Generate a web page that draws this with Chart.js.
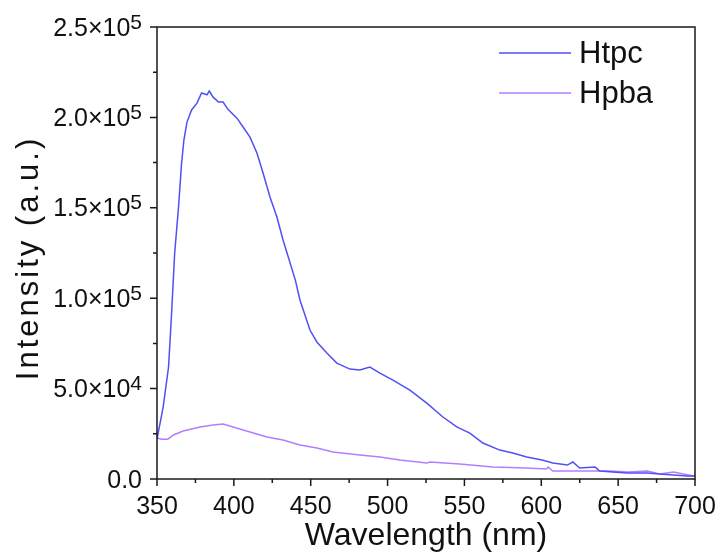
<!DOCTYPE html>
<html>
<head>
<meta charset="utf-8">
<script src="https://cdn.jsdelivr.net/npm/chart.js@4/dist/chart.umd.min.js"></script>
<style>
  html, body { margin: 0; padding: 0; background: #fff; }
  #wrap { width: 723px; height: 556px; }
</style>
</head>
<body>
<div id="wrap"><canvas id="myChart"></canvas></div>
<script>
const seriesNames = ["Htpc", "Hpba"];

const htpcWavelength = [350, 354, 357.5, 359.5, 361.5, 364, 366, 367.5, 369.5, 372.5, 376, 379, 382.5, 384, 386.5, 390, 393, 396, 402, 406, 410.5,
  415, 419, 423.5, 428, 432, 436, 440, 443, 449.5, 454, 460.5, 467, 475.5, 482, 488.5, 495, 503.5, 514.5, 525.5, 536,
  545, 553.5, 562, 573, 581.5, 590.5, 600.5, 607.5, 617, 620.5, 625, 635, 638, 646.5, 656, 669, 677, 686, 695, 700];
const htpcIntensity = [22000, 39800, 61900, 91800, 125000, 150400, 174700, 187500, 197400, 204100, 207900, 213500, 212500, 214600, 211200, 208500, 208500, 204600, 199600, 194700, 189100,
  180300, 169200, 156000, 144900, 132200, 121100, 110000, 99000, 82400, 75800, 69700, 64100, 60800, 60300, 61900, 58600, 54700, 49200, 42000, 34300,
  28800, 25400, 19900, 16000, 14400, 12200, 10500, 8800, 7700, 9400, 6100, 6600, 4400, 3900, 3300, 3300, 2800, 2200, 1700, 1700];

const hpbaWavelength = [350, 353, 357, 361, 367, 378, 386.5, 393, 399.5, 410.5, 421.5, 432, 443, 454, 464.5, 482, 495, 508, 525.5, 527.5, 547, 568.5,
  590.5, 603.5, 604.5, 607.5, 623, 645, 656, 669, 677, 686, 699];
const hpbaIntensity = [22700, 22000, 22000, 24500, 26500, 28800, 29900, 30400, 28800, 26000, 23200, 21600, 18800, 17100, 14900, 13300, 12200, 10500, 8800, 9400, 8300, 6600,
  6100, 5500, 6600, 4400, 4400, 4400, 3900, 4400, 2800, 3900, 1700];

const yTickValues = [0, 50000, 100000, 150000, 200000, 250000];
const yTickMantissa = ["0.0", "5.0\u00d710", "1.0\u00d710", "1.5\u00d710", "2.0\u00d710", "2.5\u00d710"];
const yTickExponent = ["", "4", "5", "5", "5", "5"];

const seriesColors = ["rgb(80, 80, 245)", "rgb(180, 125, 255)"];
const yTitle = "Intensity (a.u.)";

const FONT = "'Liberation Sans', Arial, sans-serif";

function toPoints(xs, ys) {
  return xs.map((x, i) => ({ x: x, y: ys[i] }));
}

// frame, ticks (major + minor), y labels with superscripts, y title and legend
const decorPlugin = {
  id: "decor",
  afterDraw(chart) {
    const ctx = chart.ctx;
    const area = chart.chartArea;
    const xs = chart.scales.x;
    const ys = chart.scales.y;
    ctx.save();
    ctx.strokeStyle = "#1a1a1a";
    ctx.lineWidth = 1.5;
    ctx.strokeRect(area.left, area.top, area.right - area.left, area.bottom - area.top);

    ctx.beginPath();
    for (let v = 350; v <= 700; v += 25) {
      const px = xs.getPixelForValue(v);
      const len = v % 50 === 0 ? 7 : 4;
      ctx.moveTo(px, area.bottom);
      ctx.lineTo(px, area.bottom + len);
    }
    for (let v = 0; v <= 250000; v += 25000) {
      const py = ys.getPixelForValue(v);
      const len = v % 50000 === 0 ? 7 : 4;
      ctx.moveTo(area.left, py);
      ctx.lineTo(area.left - len, py);
    }
    ctx.stroke();

    // y tick labels
    ctx.fillStyle = "#111";
    ctx.textAlign = "right";
    ctx.textBaseline = "alphabetic";
    const right = area.left - 15;
    yTickValues.forEach((v, i) => {
      const py = ys.getPixelForValue(v);
      let r = right;
      if (yTickExponent[i]) {
        ctx.font = "21px " + FONT;
        ctx.fillText(yTickExponent[i], r, py + 1.5);
        r -= ctx.measureText(yTickExponent[i]).width;
      }
      ctx.font = "25px " + FONT;
      ctx.fillText(yTickMantissa[i], r, py + 8.5);
    });

    // y title
    ctx.save();
    ctx.translate(38, (area.top + area.bottom) / 2 + 5);
    ctx.rotate(-Math.PI / 2);
    ctx.font = "31px " + FONT;
    ctx.letterSpacing = "3px";
    ctx.textAlign = "center";
    ctx.fillText(yTitle, 0, 0);
    ctx.restore();

    // legend inside the plot
    ctx.font = "31px " + FONT;
    ctx.textBaseline = "middle";
    ctx.textAlign = "left";
    chart.data.datasets.forEach((ds, i) => {
      const y = 53 + i * 40;
      ctx.strokeStyle = ds.borderColor;
      ctx.lineWidth = 1.5;
      ctx.beginPath();
      ctx.moveTo(499, y);
      ctx.lineTo(571, y);
      ctx.stroke();
      ctx.fillStyle = "#111";
      ctx.fillText(ds.label, 579, y + 1);
    });
    ctx.restore();
  }
};

const ctx = document.getElementById("myChart").getContext("2d");
const chart = new Chart(ctx, {
  type: "line",
  data: {
    datasets: [
      {
        label: seriesNames[0],
        data: toPoints(htpcWavelength, htpcIntensity),
        borderColor: seriesColors[0],
        borderWidth: 1.5,
        pointRadius: 0,
        tension: 0,
      },
      {
        label: seriesNames[1],
        data: toPoints(hpbaWavelength, hpbaIntensity),
        borderColor: seriesColors[1],
        borderWidth: 1.5,
        pointRadius: 0,
        tension: 0,
      }
    ]
  },
  options: {
    responsive: true,
    maintainAspectRatio: false,
    animation: false,
    layout: { padding: { left: 0, right: 28, top: 27, bottom: 0 } },
    plugins: {
      legend: { display: false },
      tooltip: { enabled: false },
    },
    scales: {
      x: {
        type: "linear",
        min: 350,
        max: 700,
        afterFit: (scale) => { scale.height = 77; },
        ticks: {
          stepSize: 50,
          padding: 6,
          color: "#111",
          font: { family: FONT, size: 25 },
          maxRotation: 0,
        },
        grid: { drawOnChartArea: false, color: "transparent", tickLength: 7 },
        border: { display: false },
        title: {
          display: true,
          text: "Wavelength (nm)",
          color: "#111",
          font: { family: FONT, size: 32 },
          padding: { top: 0, bottom: 1 },
        },
      },
      y: {
        min: 0,
        max: 250000,
        afterFit: (scale) => { scale.width = 157; },
        ticks: { display: false, stepSize: 50000 },
        grid: { drawOnChartArea: false, color: "transparent", tickLength: 7 },
        border: { display: false },
        title: { display: false },
      },
    },
  },
  plugins: [decorPlugin],
});
</script>
</body>
</html>
